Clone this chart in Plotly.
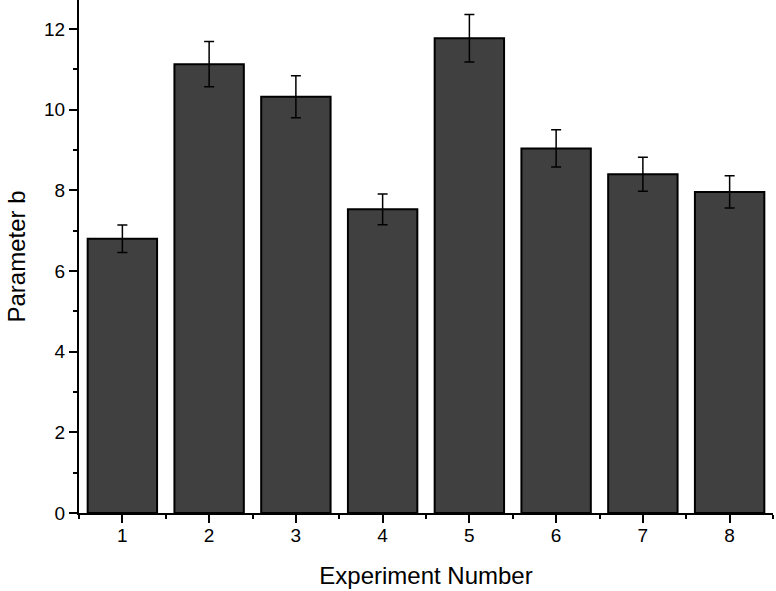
import plotly.graph_objects as go

experiments = [1, 2, 3, 4, 5, 6, 7, 8]
param_b = [6.80, 11.13, 10.32, 7.53, 11.77, 9.04, 8.40, 7.96]
param_err = [0.34, 0.56, 0.52, 0.38, 0.59, 0.46, 0.42, 0.40]

FONT = dict(family="Liberation Sans, Arial, sans-serif", color="black")

fig = go.Figure()
fig.add_trace(go.Bar(
    x=experiments, y=param_b,
    width=0.8,
    marker=dict(color="#404040", line=dict(color="black", width=2)),
    error_y=dict(type="data", array=param_err, color="black", thickness=1.5, width=5),
    showlegend=False,
))

fig.update_layout(
    width=776, height=591,
    plot_bgcolor="white", paper_bgcolor="white",
    font=dict(size=19, **FONT),
    margin=dict(l=79, r=3, t=0, b=78),
    xaxis=dict(
        range=[0.5, 8.5], tickmode="array", tickvals=experiments,
        showline=True, linecolor="black", linewidth=2,
        ticks="outside", ticklen=8, tickwidth=2, tickcolor="black",
        minor=dict(ticks="outside", dtick=0.5, tick0=0.5, ticklen=4, tickwidth=2, tickcolor="black"),
        showgrid=False, zeroline=False,
        ticklabelstandoff=-4,
        title=dict(text="Experiment Number", font=dict(size=24, **FONT), standoff=22),
        tickfont=dict(size=19, **FONT),
    ),
    yaxis=dict(
        range=[0, 12.72], dtick=2, tick0=0,
        showline=True, linecolor="black", linewidth=2,
        ticks="outside", ticklen=8, tickwidth=2, tickcolor="black",
        minor=dict(ticks="outside", dtick=1, ticklen=4, tickwidth=2, tickcolor="black"),
        showgrid=False, zeroline=False,
        title=dict(text="Parameter b", font=dict(size=24, **FONT), standoff=12),
        tickfont=dict(size=19, **FONT),
    ),
)

# drop the page's default body margin so the figure sits at the window origin
fig.write_html("out.html", config={"displayModeBar": False},
               post_script="document.body.style.margin='0px';")
